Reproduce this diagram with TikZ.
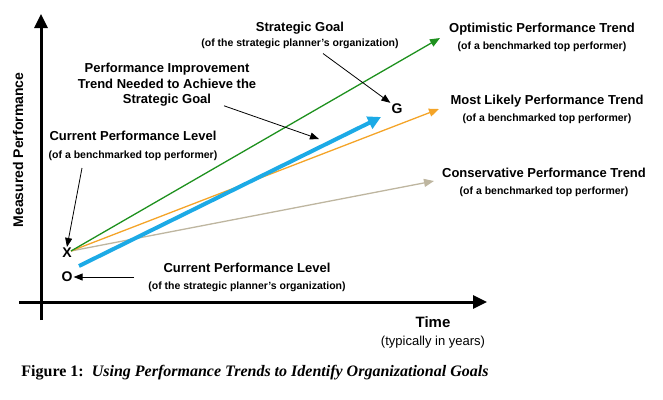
\documentclass[tikz,border=0pt]{standalone}
\usepackage{fontspec}
\setmainfont{Liberation Serif}
\setsansfont{Liberation Sans}
\usetikzlibrary{arrows.meta,positioning}
\definecolor{optgreen}{RGB}{30,145,30}
\definecolor{likorange}{RGB}{244,164,40}
\definecolor{contan}{RGB}{190,182,160}
\definecolor{goalblue}{RGB}{28,170,230}
\newcommand{\subline}{\sffamily\bfseries\fontsize{10.5}{12}\selectfont}
\tikzset{axis/.style={line width=3pt,-{Triangle[length=14pt,width=13pt]}},trend/.style={line width=1.3pt,-{Triangle[length=10pt,width=8pt]}},pointer/.style={line width=0.8pt,-{Triangle[length=9pt,width=7pt]}},heading/.style={font=\sffamily\bfseries\fontsize{13}{15.5}\selectfont,align=center,inner sep=1pt},letter/.style={font=\sffamily\bfseries\fontsize{14}{16}\selectfont,inner sep=1pt}}

\begin{document}
\begin{tikzpicture}[x=1pt,y=-1pt]
\useasboundingbox (0,0) rectangle (663,399);
% axes
\coordinate (ybot) at (41,320);\coordinate (ytop) at (41,14);
\coordinate (xleft) at (19,302);\coordinate (xright) at (487,302);
\draw[axis](ybot)--(ytop);\draw[axis](xleft)--(xright);
\node[heading,rotate=90,font=\sffamily\bfseries\fontsize{14}{16}\selectfont](ylab) at (18,150){Measured Performance};
\node[heading,font=\sffamily\bfseries\fontsize{15}{17}\selectfont](time) at (433,322){Time};
\node[font=\sffamily\fontsize{13}{15}\selectfont,below=4pt of time](years){(typically in years)};
% points
\node[letter](X) at (67,253){X};
\node[letter](O) at (67,277){O};
\node[letter](G) at (397,109){G};
\coordinate (origin) at (71,251);
\coordinate (optend) at (440,38);\coordinate (likend) at (439,109);
\coordinate (conend) at (434,181);
\coordinate (imprstart) at (79,266);\coordinate (imprend) at (381,117);
% trends
\draw[trend,contan](origin)--(conend);
\draw[trend,likorange](origin)--(likend);
\draw[trend,optgreen](origin)--(optend);
\draw[goalblue,line width=4pt,-{Triangle[length=13pt,width=13pt]}](imprstart)--(imprend);
% labels
\node[heading](opt) at (542,37){Optimistic Performance Trend\\[1.5pt]{\subline (of a benchmarked top performer)}};
\node[heading](lik) at (547,109){Most Likely Performance Trend\\[1.5pt]{\subline (of a benchmarked top performer)}};
\node[heading](con) at (544,182){Conservative Performance Trend\\[1.5pt]{\subline (of a benchmarked top performer)}};
\node[heading](goal) at (300,35){Strategic Goal\\[-0.5pt]{\subline (of the strategic planner's organization)}};
\node[heading](impr) at (167,85){Performance Improvement\\Trend Needed to Achieve the\\Strategic Goal};
\node[heading](toplevel) at (133,146){Current Performance Level\\[2.5pt]{\subline (of a benchmarked top performer)}};
\node[heading](orglevel) at (247,277){Current Performance Level\\[1.5pt]{\subline (of the strategic planner's organization)}};
% pointers
\draw[pointer]([xshift=23pt,yshift=-4pt]goal.south)--(G.north west);
\draw[pointer]([xshift=57pt,yshift=2pt]impr.south)--(319,139);
\draw[pointer]([xshift=-51pt,yshift=-6pt]toplevel.south)--(X.north);
\draw[pointer]([xshift=-13pt]orglevel.west)--(O.east);
% caption
\node[font=\rmfamily\bfseries\fontsize{16}{18}\selectfont](caption) at (255,373){Figure 1:\ \ \textit{Using Performance Trends to Identify Organizational Goals}};
\end{tikzpicture}
\end{document}
